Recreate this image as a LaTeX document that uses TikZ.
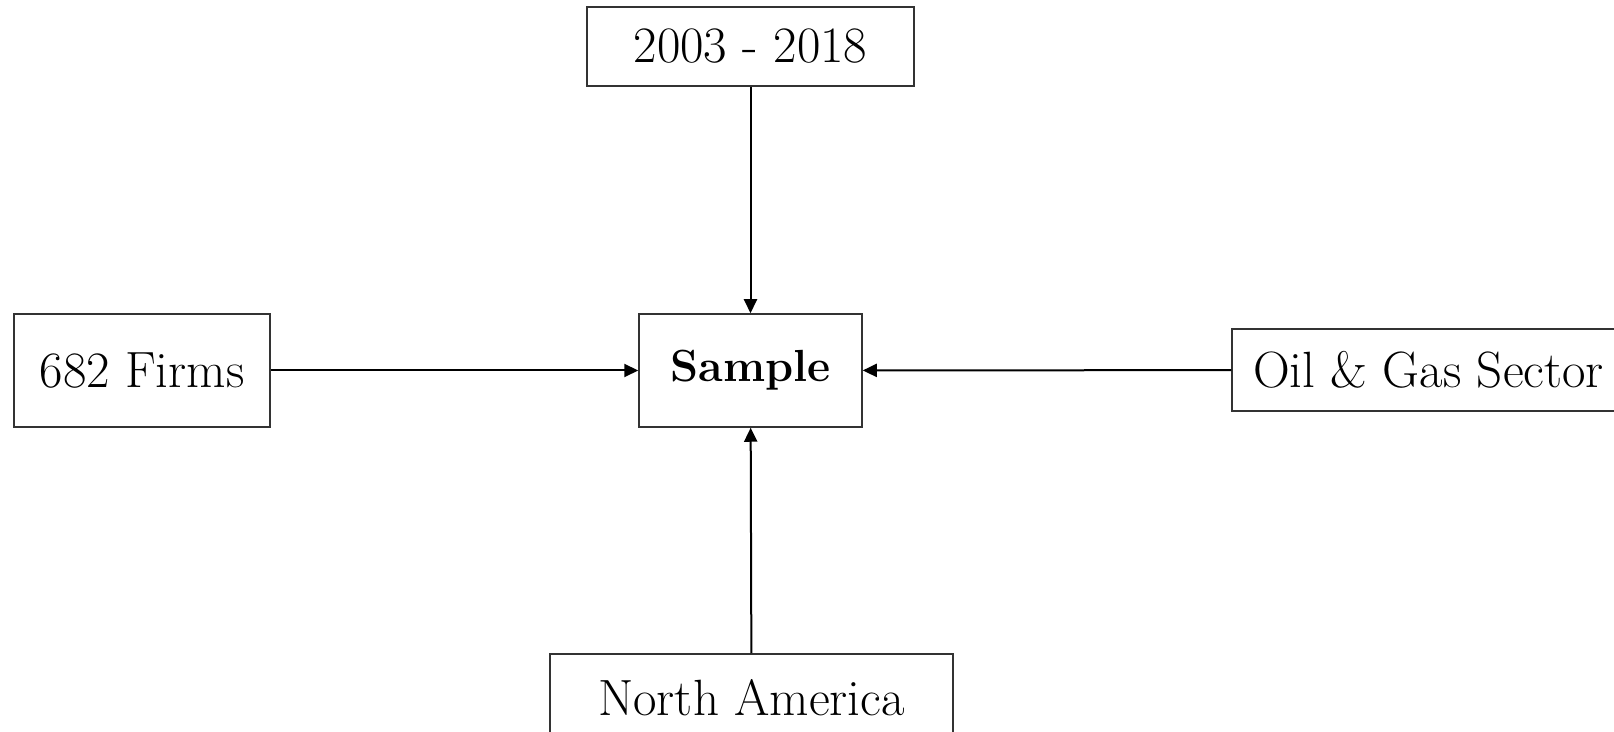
\documentclass[tikz,border=0pt]{standalone}
\usetikzlibrary{arrows.meta}

\tikzset{
    box/.style = {draw = black!80, line width = .75pt, fill = white, inner sep = 0pt,
                  font = \fontsize{25.5}{30}\selectfont},
    feed/.style = {-{Triangle[length = 7pt, width = 6.5pt]}, line width = 1pt}
}

\begin{document}
\begin{tikzpicture}[x = .5pt, y = -.5pt]
    \useasboundingbox (0,0) rectangle (1614,732);
    \node[box, minimum width = 163.5pt, minimum height = 39.5pt] (years) at (750.5,46.5) {2003 - 2018};
    \node[box, minimum width = 111.5pt, minimum height = 56.5pt,
          font = \fontsize{22.5}{27}\selectfont] (sample) at (750.5,370.5) {\textbf{Sample}};
    \node[box, minimum width = 128pt, minimum height = 56.5pt] (firms) at (142,370.5) {682 Firms};
    \node[box, minimum width = 196.5pt, minimum height = 41pt] (sector) at (1428.5,370) {Oil \& Gas Sector};
    \node[box, minimum width = 201.5pt, minimum height = 44pt] (region) at (751.5,698) {North America};
%% Everything points at the sample
    \draw[feed] (years) -- (sample);
    \draw[feed] (firms) -- (sample);
    \draw[feed] (sector) -- (sample);
    \draw[feed] (region) -- (sample);
\end{tikzpicture}
\end{document}
